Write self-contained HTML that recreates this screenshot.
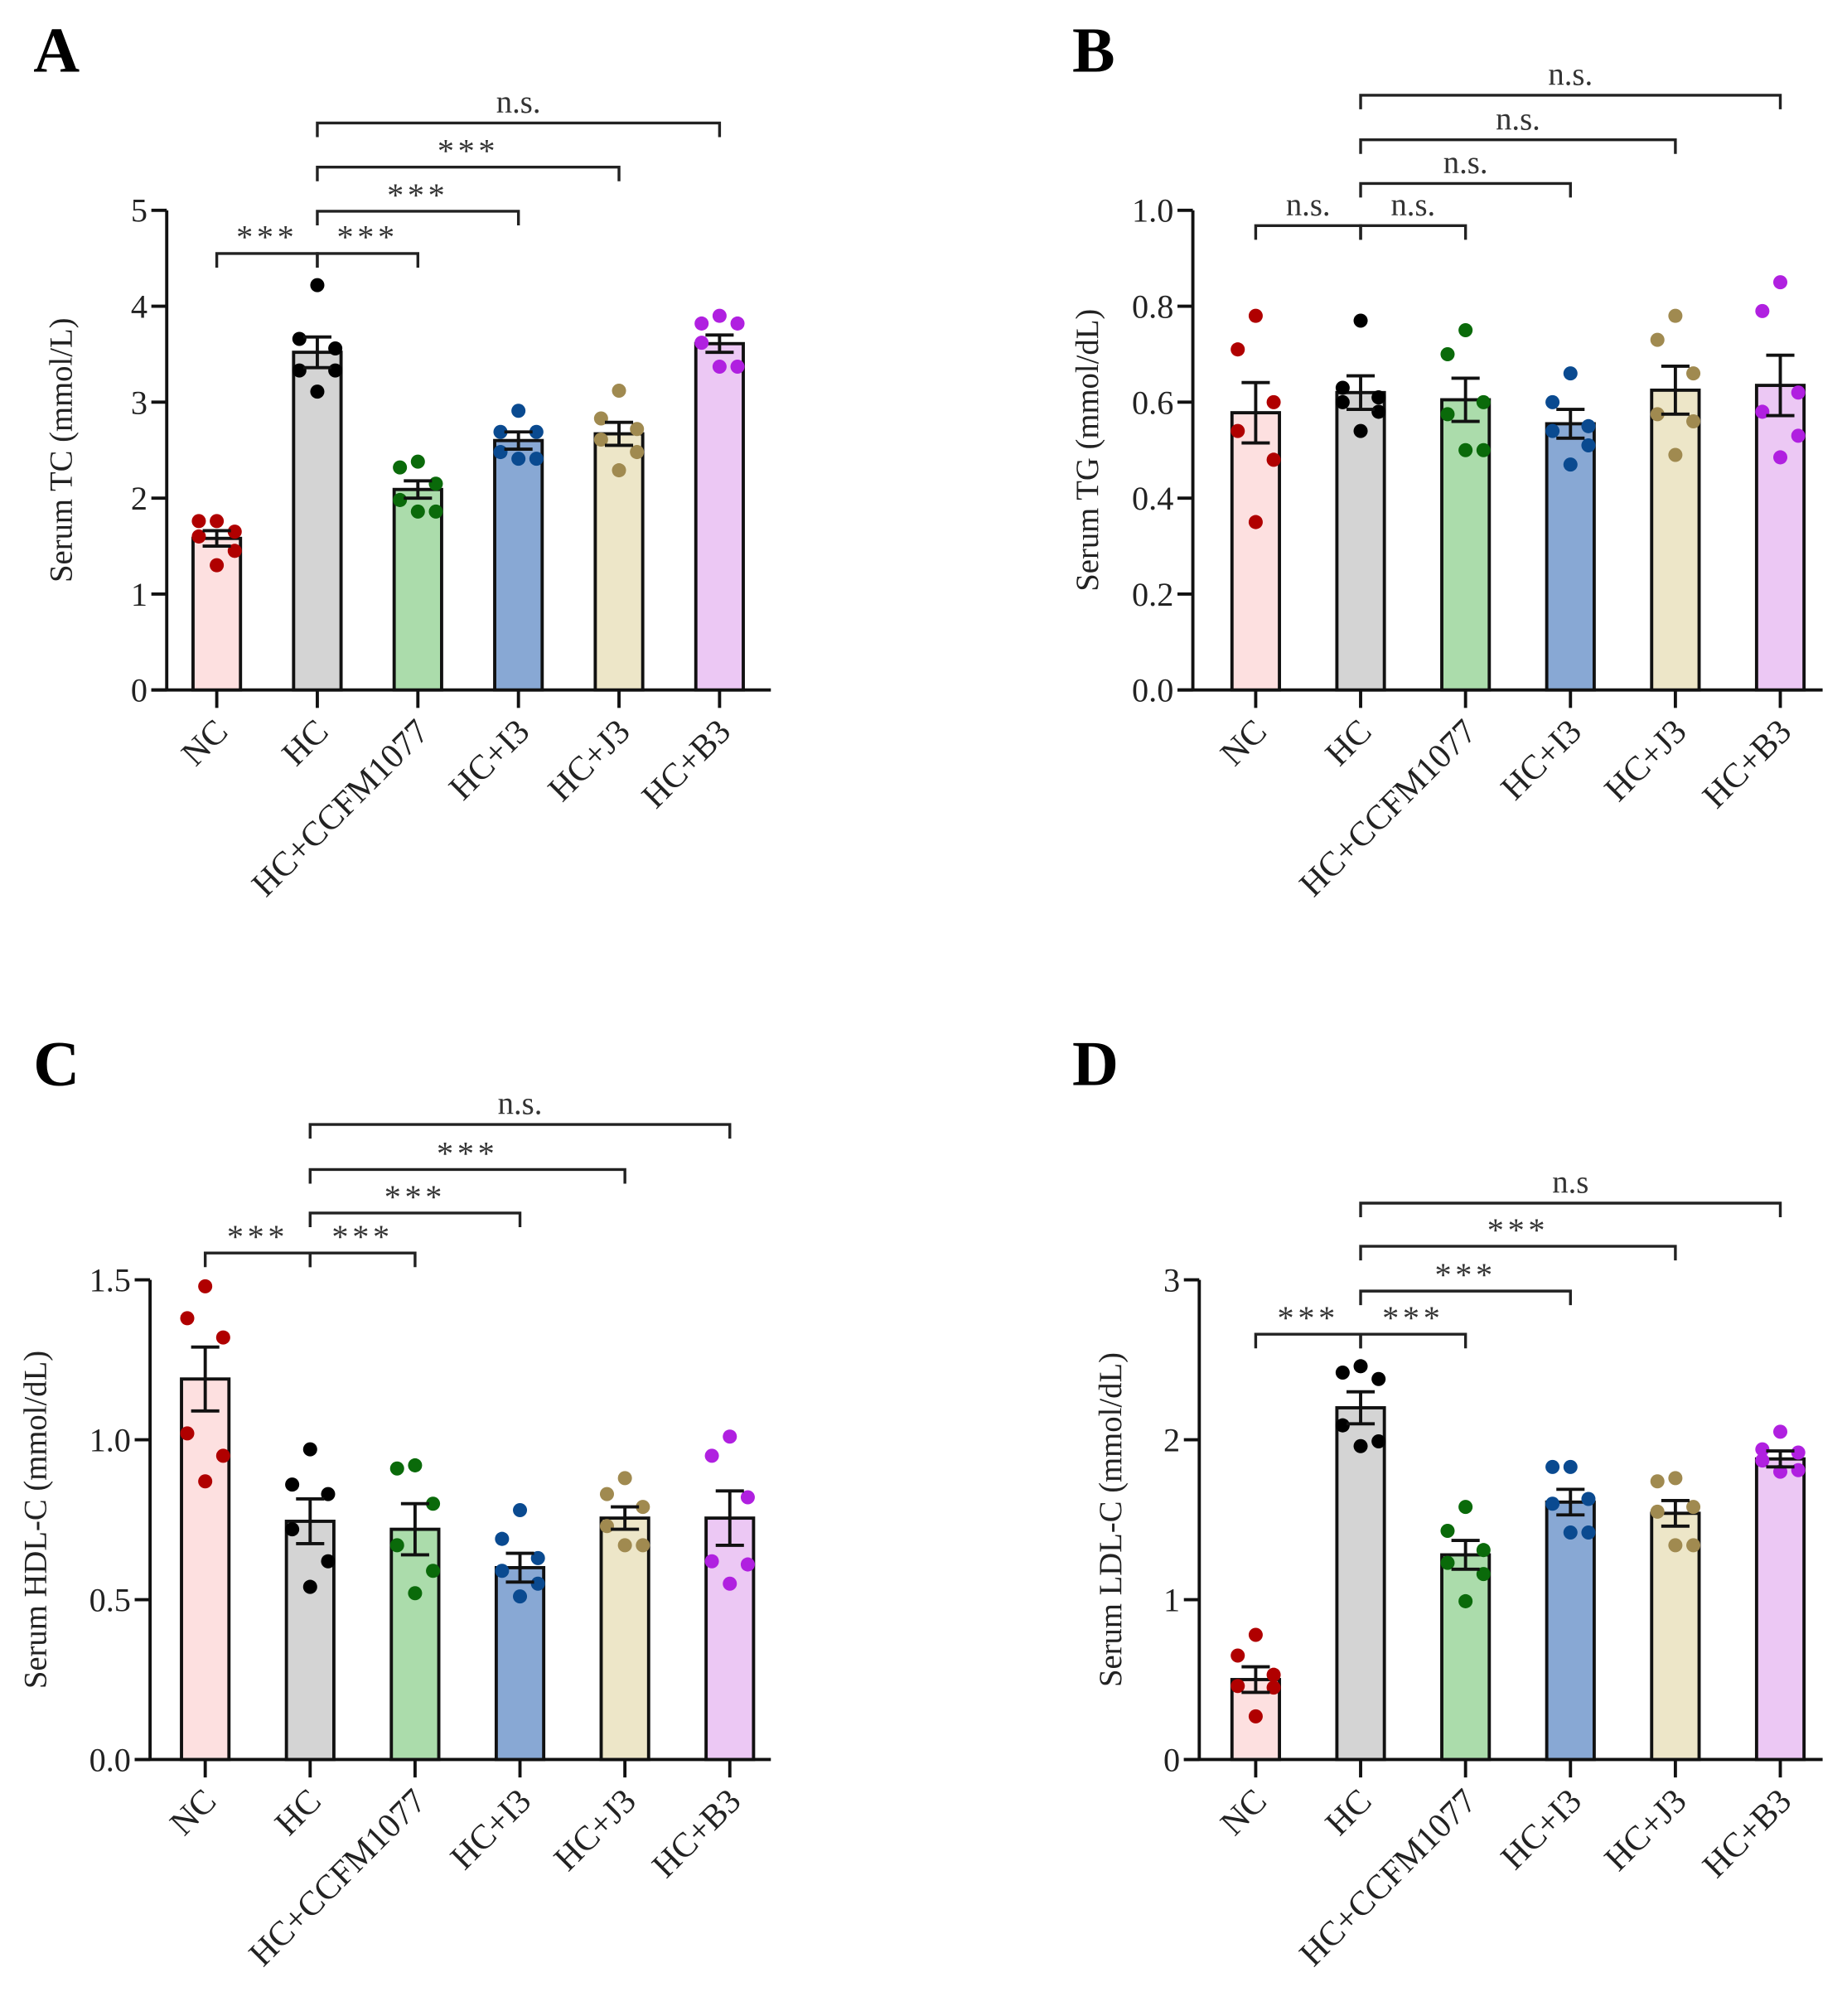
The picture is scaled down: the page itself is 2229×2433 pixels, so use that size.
<!DOCTYPE html>
<html><head><meta charset="utf-8"><style>
html,body{margin:0;padding:0;background:#fff}
svg{display:block}
text{font-family:"Liberation Serif","Times New Roman",Times,serif;fill:#222}
</style></head><body>
<svg id="fig" width="2229" height="2433" viewBox="0 0 1440 1572" preserveAspectRatio="none" xmlns="http://www.w3.org/2000/svg"></svg>
<script>
const categories = ["NC","HC","HC+CCFM1077","HC+I3","HC+J3","HC+B3"];
const fills = ["#fde0e0","#d4d4d4","#abdcab","#88a8d4","#ede6c8","#ecc8f4"];
const dotColors = ["#b00000","#000000","#0a6a0a","#0a4a90","#a08a50","#b020e0"];

// Panel A: Serum TC
const tcMeans = [1.58,3.52,2.09,2.60,2.67,3.61];
const tcSem = [0.08,0.16,0.09,0.09,0.12,0.09];
const tcPoints = [[1.76,1.76,1.65,1.60,1.45,1.30],[4.22,3.66,3.56,3.33,3.33,3.11],[2.38,2.32,2.15,1.98,1.86,1.86],[2.91,2.69,2.69,2.48,2.41,2.41],[3.12,2.83,2.72,2.61,2.48,2.29],[3.90,3.82,3.82,3.62,3.37,3.37]];
const tcTicks = ["0","1","2","3","4","5"];
const tcBrackets = [[0,1,4.55,"***"],[1,2,4.55,"***"],[1,3,4.99,"***"],[1,4,5.45,"***"],[1,5,5.91,"n.s."]];

// Panel B: Serum TG
const tgMeans = [0.578,0.62,0.605,0.555,0.625,0.635];
const tgSem = [0.063,0.035,0.045,0.03,0.05,0.063];
const tgPoints = [[0.78,0.71,0.60,0.54,0.48,0.35],[0.77,0.63,0.61,0.60,0.58,0.54],[0.75,0.70,0.60,0.575,0.50,0.50],[0.66,0.60,0.55,0.54,0.51,0.47],[0.78,0.73,0.66,0.575,0.56,0.49],[0.85,0.79,0.62,0.58,0.53,0.485]];
const tgTicks = ["0.0","0.2","0.4","0.6","0.8","1.0"];
const tgBrackets = [[0,1,0.968,"n.s."],[1,2,0.968,"n.s."],[1,3,1.056,"n.s."],[1,4,1.147,"n.s."],[1,5,1.24,"n.s."]];

// Panel C: Serum HDL-C
const hdlMeans = [1.19,0.745,0.72,0.60,0.755,0.755];
const hdlSem = [0.10,0.07,0.08,0.045,0.035,0.085];
const hdlPoints = [[1.48,1.38,1.32,1.02,0.95,0.87],[0.97,0.86,0.83,0.72,0.62,0.54],[0.92,0.91,0.80,0.67,0.59,0.52],[0.78,0.69,0.63,0.59,0.55,0.51],[0.88,0.83,0.79,0.73,0.67,0.67],[1.01,0.95,0.82,0.62,0.61,0.55]];
const hdlTicks = ["0.0","0.5","1.0","1.5"];
const hdlBrackets = [[0,1,1.584,"***"],[1,2,1.584,"***"],[1,3,1.709,"***"],[1,4,1.845,"***"],[1,5,1.986,"n.s."]];

// Panel D: Serum LDL-C
const ldlMeans = [0.50,2.20,1.28,1.61,1.54,1.88];
const ldlSem = [0.08,0.10,0.09,0.08,0.08,0.05];
const ldlPoints = [[0.78,0.65,0.53,0.46,0.45,0.27],[2.46,2.42,2.38,2.09,1.99,1.96],[1.58,1.43,1.31,1.23,1.16,0.99],[1.83,1.83,1.63,1.60,1.42,1.42],[1.76,1.74,1.58,1.55,1.34,1.34],[2.05,1.94,1.92,1.87,1.81,1.80]];
const ldlTicks = ["0","1","2","3"];
const ldlBrackets = [[0,1,2.66,"***"],[1,2,2.66,"***"],[1,3,2.93,"***"],[1,4,3.21,"***"],[1,5,3.48,"n.s"]];

const NS = "http://www.w3.org/2000/svg";
const FONT = '"Liberation Serif", "Times New Roman", serif';
const svg = document.getElementById('fig');
function mk(tag, attrs, parent){const e=document.createElementNS(NS,tag);for(const k in attrs)e.setAttribute(k,attrs[k]);if(tag==='text')e.setAttribute('font-family',FONT);(parent||svg).appendChild(e);return e;}
const jitter = [0,-14,14,-14,14,0];

function panel(cfg){
  const g = mk('g',{});
  
  
  const yMax = parseFloat(cfg.ticks[cfg.ticks.length-1]);
  const y = v => cfg.y0 - (v / yMax) * (cfg.y0 - cfg.yTop);
  const x = i => cfg.x0 + i * cfg.step;
  const L = mk('text',{x:cfg.lx,y:cfg.ly,'font-size':50,'font-weight':'bold',style:'fill:#000'},g);
  L.textContent = cfg.letter;
  
  
  const ax = mk('line',{x1:cfg.ax,y1:cfg.yTop,x2:cfg.ax,y2:cfg.y0,stroke:'#111','stroke-width':2.5},g);
  
  
  const xa = mk('line',{x1:cfg.ax-12,y1:cfg.y0,x2:cfg.xEnd,y2:cfg.y0,stroke:'#111','stroke-width':2.5},g);
  
  
  cfg.ticks.forEach(t=>{
    const v = parseFloat(t), yy = y(v);
    const tl = mk('line',{x1:cfg.ax-12,y1:yy,x2:cfg.ax,y2:yy,stroke:'#111','stroke-width':2.5},g);
    
    
    const tt = mk('text',{x:cfg.ax-15,y:yy+9,'font-size':26,'text-anchor':'end'},g);
    tt.textContent = t;
    
    
  });
  const yt = mk('text',{x:0,y:0,'font-size':25,'text-anchor':'middle',transform:`translate(${cfg.tx},${(cfg.yTop+cfg.y0)/2}) rotate(-90)`},g);
  yt.textContent = cfg.title;
  
  
  const bw = 37;
  categories.forEach((c,i)=>{
    const cx = x(i);
    const b = mk('rect',{x:cx-bw/2,y:y(cfg.means[i]),width:bw,height:cfg.y0-y(cfg.means[i]),fill:fills[i],stroke:'#111','stroke-width':2.5},g);
    
    
    cfg.points[i].forEach((p,j)=>{
      const d = mk('circle',{cx:cx+jitter[j],cy:y(p),r:5.5,fill:dotColors[i]},g);
      
      
    });
    const hi=y(cfg.means[i]+cfg.sem[i]), lo=y(cfg.means[i]-cfg.sem[i]);
    const ep = mk('path',{d:`M${cx},${hi}V${lo}M${cx-11},${hi}H${cx+11}M${cx-11},${lo}H${cx+11}`,stroke:'#111','stroke-width':2.5,fill:'none'},g);
    
    
    const tk = mk('line',{x1:cx,y1:cfg.y0,x2:cx,y2:cfg.y0+14,stroke:'#111','stroke-width':2.5},g);
    
    
    const cl = mk('text',{x:0,y:0,'font-size':27,'text-anchor':'end',transform:`translate(${cx+10},${cfg.y0+34}) rotate(-45)`},g);
    cl.textContent = c;
    
    
  });
  cfg.brackets.forEach(br=>{
    const [a,b2,v,lab]=br; const yy=y(v);
    const bp = mk('path',{d:`M${x(a)},${yy+11}V${yy}H${x(b2)}V${yy+11}`,stroke:'#222','stroke-width':2.2,fill:'none'},g);
    
    
    const star = lab.indexOf('*')>=0;
    const st = mk('text',{x:(x(a)+x(b2))/2,y:star?yy-4:yy-8,'font-size':star?26:25,'text-anchor':'middle','letter-spacing':star?3:0,style:'fill:#333'},g);
    st.textContent = lab;
    
    
  });
}
panel({name:'panel-a-tc',letter:'A',lx:26,ly:56,ax:130,xEnd:601,y0:538,yTop:164,x0:169,step:78.4,ticks:tcTicks,means:tcMeans,sem:tcSem,points:tcPoints,brackets:tcBrackets,title:'Serum TC (mmol/L)',tx:56});
panel({name:'panel-b-tg',letter:'B',lx:836,ly:56,ax:930,xEnd:1421,y0:538,yTop:164,x0:979,step:81.8,ticks:tgTicks,means:tgMeans,sem:tgSem,points:tgPoints,brackets:tgBrackets,title:'Serum TG  (mmol/dL)',tx:856});
panel({name:'panel-c-hdl',letter:'C',lx:26,ly:846,ax:117,xEnd:601,y0:1372,yTop:998,x0:160,step:81.8,ticks:hdlTicks,means:hdlMeans,sem:hdlSem,points:hdlPoints,brackets:hdlBrackets,title:'Serum HDL-C (mmol/dL)',tx:36});
panel({name:'panel-d-ldl',letter:'D',lx:836,ly:846,ax:935,xEnd:1421,y0:1372,yTop:998,x0:979,step:81.8,ticks:ldlTicks,means:ldlMeans,sem:ldlSem,points:ldlPoints,brackets:ldlBrackets,title:'Serum LDL-C (mmol/dL)',tx:874});
</script>
</body></html>
